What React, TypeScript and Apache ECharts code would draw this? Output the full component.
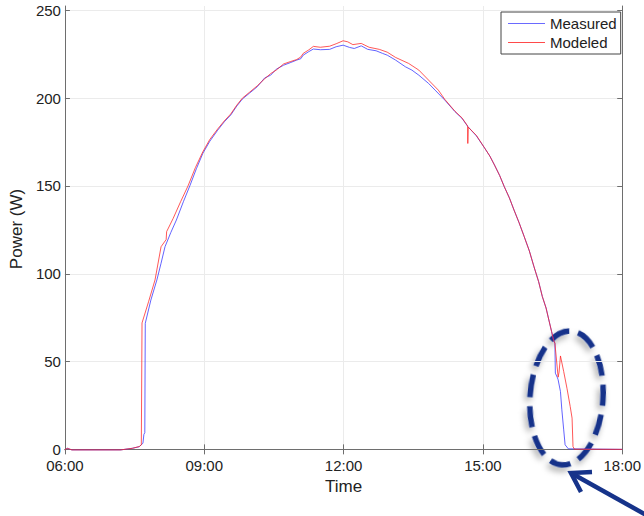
import React, { useEffect, useRef } from "react";
import * as echarts from "echarts";

const xTicks = [6, 9, 12, 15, 18];
const yTicks = [0, 50, 100, 150, 200, 250];

const measuredTime = [
  6.0, 6.05, 6.15, 7.2, 7.45, 7.6, 7.68, 7.7, 7.72, 7.73, 7.85, 7.98, 8.07, 8.155, 8.28, 8.4, 8.55, 8.69, 8.83, 8.97,
  9.12, 9.29, 9.43, 9.57, 9.7, 9.82, 9.98, 10.14, 10.3, 10.43, 10.55, 10.71, 10.85, 10.99, 11.08, 11.13, 11.25, 11.35,
  11.5, 11.7, 11.84, 11.99, 12.13, 12.23, 12.38, 12.52, 12.7, 12.84, 12.94, 13.12, 13.33, 13.47,
  13.62, 13.83, 13.97, 14.18, 14.4, 14.55, 14.68, 14.86, 15.04, 15.15, 15.25, 15.36, 15.46, 15.57, 15.67, 15.78, 15.89, 16.0, 16.1, 16.2, 16.28,
  16.36, 16.42, 16.48, 16.52, 16.55, 16.56, 16.6, 16.62, 16.67, 16.7, 16.74, 16.77, 16.84, 18.0,
];
const measuredPower = [
  -0.3, 0.6, -0.3, -0.3, 0.6, 1.5, 3.5, 8.5, 9.5, 71.8, 85, 96.5, 106, 115.4, 123.5, 130.6, 141, 150.1, 159.8, 168.6,
  175.5, 181.8, 186.5, 190.4, 195.5, 199.5, 203, 206.5, 211.5, 213.1, 216.5, 218.8, 220.2, 221.7, 222.5, 224.5, 226.5, 228,
  227.6, 227.8, 229.3, 230.2, 228.9, 228.3, 229.8, 227.8, 227, 225.5, 224.5, 221.7, 217.9, 216,
  213.1, 208.4, 204.6, 198.9, 192.3, 188.5, 183.7, 178.5, 171.5, 167, 161.9, 156, 149.6, 143.2, 136.3, 129, 121.1, 113, 104, 95.5, 87,
  80.5, 73.7, 67, 62.3, 60.5, 43.4, 41.1, 39.6, 32.9, 22.5, 11.1, 2.6, 0.3, 0.0,
];

const modeledTime = [
  6.0, 6.05, 6.15, 7.2, 7.45, 7.6, 7.645, 7.66, 7.8, 7.94, 8.07, 8.18, 8.19, 8.33, 8.49, 8.65, 8.81, 8.97,
  9.12, 9.29, 9.43, 9.57, 9.7, 9.82, 9.98, 10.14, 10.3, 10.43, 10.55, 10.71, 10.85, 10.99, 11.08, 11.13, 11.25, 11.35,
  11.5, 11.7, 11.84, 11.99, 12.09, 12.2, 12.38, 12.55, 12.77, 12.94, 13.12, 13.4, 13.62, 13.83,
  14.04, 14.18, 14.4, 14.55, 14.67, 14.675, 14.685, 14.86, 15.04, 15.15, 15.25, 15.36, 15.46, 15.57, 15.67, 15.78, 15.89, 16.0, 16.1,
  16.2, 16.28, 16.36, 16.42, 16.48, 16.52, 16.55, 16.62, 16.64, 16.67, 16.74, 16.81, 16.88, 16.92, 16.94, 16.97, 18.0,
];
const modeledPower = [
  -0.3, 0.6, -0.3, -0.3, 0.6, 1.6, 2.6, 72, 84, 96.5, 115.4, 119.5, 124, 131.5, 141, 150, 160.5, 169.5,
  176.5, 182.5, 187, 191, 196, 200, 203.5, 207, 211, 214, 216, 219.5, 220.8, 222, 223.5, 225.5, 227.5, 229.5,
  229, 229.6, 231, 232.7, 232.1, 230.5, 231.2, 229, 227.8, 226.2, 223.2, 219.8, 216, 210.3,
  204.6, 199.3, 192.5, 188.8, 184.2, 174.2, 183.5, 178.8, 171.5, 167, 161.9, 156, 149.6, 143.2, 136.3, 129, 121.1, 113, 104,
  95.5, 87, 80.5, 73.7, 67, 62.3, 60.5, 41.1, 44, 53.2, 44.3, 34.8, 24.4, 17.8, 1.6, 0.1, 0.0,
];

const FONT = 'Arial, "Liberation Sans", Helvetica, sans-serif';
const NAVY = "#16338a";
const BLUE = "#4848ff";
const RED = "#ff2020";

export default function App() {
  const ref = useRef<HTMLDivElement>(null);
  useEffect(() => {
    document.body.style.margin = "0";
    if (!ref.current) return;
    const chart = echarts.init(ref.current, null, { renderer: "svg" });
    const measured = measuredTime.map((t, i) => [t, measuredPower[i]]);
    const modeled = modeledTime.map((t, i) => [t, modeledPower[i]]);
    const fmt = (v: number) => (v < 10 ? "0" + v : "" + v) + ":00";
    const axisLine = { show: true, lineStyle: { color: "#6e6e6e", width: 1 } };
    const tick = { show: true, inside: true, length: 5, lineStyle: { color: "#6e6e6e" } };
    chart.setOption({
      animation: false,
      backgroundColor: "#fff",
      textStyle: { fontFamily: FONT },
      grid: { left: 62, right: 17, top: 6, bottom: 64, containLabel: false },
      legend: {
        data: [
          { name: "Measured", icon: "rect", itemStyle: { color: "#6a6aff", opacity: 1, borderWidth: 0 } },
          { name: "Modeled", icon: "rect", itemStyle: { color: "#ff4a4a", opacity: 1, borderWidth: 0 } },
        ],
        orient: "vertical",
        left: 501,
        top: 12,
        padding: [4, 4, 4, 7],
        itemGap: 4,
        itemWidth: 37,
        itemHeight: 1,
        borderColor: "#444",
        borderWidth: 1,
        backgroundColor: "#fff",
        textStyle: { fontSize: 15, color: "#222", fontFamily: FONT },
      },
      xAxis: [
        {
          type: "value",
          min: xTicks[0],
          max: xTicks[xTicks.length - 1],
          interval: 3,
          position: "bottom",
          axisLine,
          axisTick: tick,
          axisLabel: { formatter: fmt, fontSize: 15, color: "#222", margin: 6, fontFamily: FONT },
          splitLine: { show: true, lineStyle: { color: "#ebebeb", width: 1 } },
          name: "Time",
          nameLocation: "middle",
          nameGap: 24,
          nameTextStyle: { fontSize: 17, color: "#222", fontFamily: FONT },
        },
        {
          type: "value",
          min: xTicks[0],
          max: xTicks[xTicks.length - 1],
          interval: 3,
          position: "top",
          axisLine,
          axisTick: tick,
          axisLabel: { show: false },
          splitLine: { show: false },
        },
      ],
      yAxis: [
        {
          type: "value",
          min: -1.5,
          max: 252.5,
          position: "left",
          axisLine,
          axisTick: { ...tick, customValues: yTicks },
          axisLabel: { customValues: yTicks, fontSize: 15, color: "#222", margin: 4, fontFamily: FONT },
          splitLine: { show: true, lineStyle: { color: "#ebebeb", width: 1 } },
          name: "Power (W)",
          nameLocation: "middle",
          nameGap: 36,
          nameTextStyle: { fontSize: 17, color: "#222", fontFamily: FONT },
        },
        {
          type: "value",
          min: -1.5,
          max: 252.5,
          position: "right",
          axisLine,
          axisTick: { ...tick, customValues: yTicks },
          axisLabel: { show: false, customValues: yTicks },
          splitLine: { show: false },
        },
      ],
      series: [
        {
          name: "Measured",
          type: "line",
          data: measured,
          showSymbol: false,
          symbol: "none",
          lineStyle: { color: BLUE, width: 1, opacity: 0.85 },
          itemStyle: { color: BLUE },
        },
        {
          name: "Modeled",
          type: "line",
          data: modeled,
          showSymbol: false,
          symbol: "none",
          lineStyle: { color: RED, width: 1, opacity: 0.75 },
          itemStyle: { color: RED },
        },
      ],
      graphic: [
        {
          type: "ellipse",
          x: 566.5,
          y: 398,
          rotation: -0.07,
          shape: { cx: 0, cy: 0, rx: 36.5, ry: 67 },
          style: {
            fill: "none",
            stroke: NAVY,
            lineWidth: 5.5,
            lineDash: [21, 9],
            shadowBlur: 6,
            shadowColor: "rgba(0,0,0,0.35)",
            shadowOffsetX: -2,
            shadowOffsetY: 4,
          },
          silent: true,
        },
        {
          type: "polyline",
          shape: { points: [[648, 516], [571, 473]] },
          style: { stroke: NAVY, lineWidth: 4.5, fill: "none" },
          silent: true,
        },
        {
          type: "polyline",
          shape: { points: [[592, 472], [571, 473], [581, 492]] },
          style: { stroke: NAVY, lineWidth: 4.5, fill: "none", lineJoin: "miter" },
          silent: true,
        },
      ],
    });
    return () => chart.dispose();
  }, []);
  return <div ref={ref} style={{ width: 644, height: 516, position: "absolute", left: 0, top: 0 }} />;
}
